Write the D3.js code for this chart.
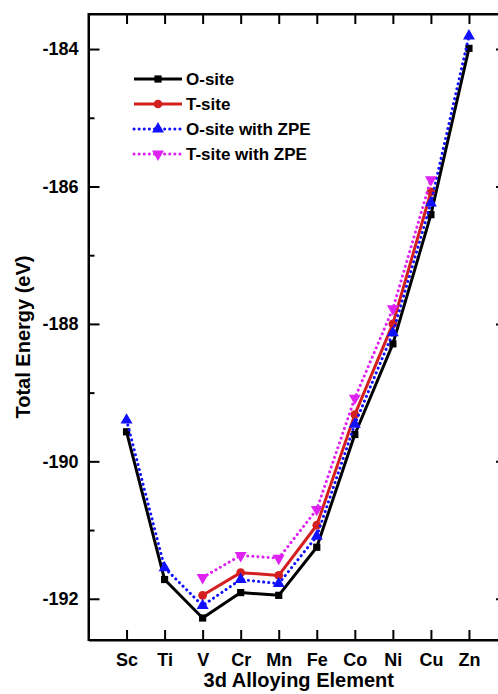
<!DOCTYPE html>
<html lang="en">
<head>
<meta charset="UTF-8">
<title>Total Energy vs 3d Alloying Element</title>
<script src="https://d3js.org/d3.v7.min.js"></script>
<style>
  body { margin: 0; background: #fff; }
  svg { display: block; font-family: "Liberation Sans", Arial, sans-serif; font-weight: bold; }
  .axis path, .axis line { stroke: #000; stroke-width: 2; }
  .axis text { font-size: 18px; font-weight: bold; fill: #000; }
</style>
</head>
<body>
<div id="chart"></div>
<script>
// data
const elements = ["Sc", "Ti", "V", "Cr", "Mn", "Fe", "Co", "Ni", "Cu", "Zn"];
const oSite    = [-189.57, -191.72, -192.28, -191.91, -191.95, -191.25, -189.61, -188.29, -186.41, -183.99];
const tSite    = [null, null, -191.95, -191.62, -191.66, -190.93, -189.32, -188.00, -186.08, null];
const oSiteZpe = [-189.40, -191.55, -192.10, -191.72, -191.78, -191.09, -189.46, -188.13, -186.24, -183.81];
const tSiteZpe = [null, null, -191.69, -191.37, -191.41, -190.70, -189.08, -187.78, -185.90, null];
const seriesNames = ["O-site", "T-site", "O-site with ZPE", "T-site with ZPE"];
const majorTicks = [-192, -190, -188, -186, -184];
const minorTicks = [-191, -189, -187, -185];

const W = 498, H = 694;
const plotL = 88.5, plotR = 507, plotT = 14, plotB = 640;

const svg = d3.select("#chart").append("svg")
    .attr("width", W)
    .attr("height", H);

const x = d3.scaleLinear().domain([-1, 10]).range([plotL, plotR]);
const y = d3.scaleLinear().domain([-192.6, -183.49]).range([plotB, plotT]);

const series = [
    { name: seriesNames[0], values: oSite,    color: "#000000", dash: null,    marker: "square" },
    { name: seriesNames[1], values: tSite,    color: "#d41f1f", dash: null,    marker: "circle" },
    { name: seriesNames[2], values: oSiteZpe, color: "#1010ff", dash: "0.1 5", marker: "triangle" },
    { name: seriesNames[3], values: tSiteZpe, color: "#dd22f2", dash: "0.1 5", marker: "triangleDown" }
];

const symbolFor = {
    square: d3.symbol().type(d3.symbolSquare).size(52),
    circle: d3.symbol().type(d3.symbolCircle).size(60),
    triangle: d3.symbol().type(d3.symbolTriangle).size(62),
    triangleDown: d3.symbol().type(d3.symbolTriangle).size(62)
};

// axes (ticks point inward)
const idx = d3.range(elements.length);

svg.append("g")
    .attr("class", "axis")
    .attr("transform", `translate(0,${plotB})`)
    .call(d3.axisBottom(x).tickValues(idx).tickSize(-10).tickSizeOuter(0).tickPadding(13)
        .tickFormat(i => elements[i]));

svg.append("g")
    .attr("class", "axis")
    .attr("transform", `translate(0,${plotT})`)
    .call(d3.axisTop(x).tickValues(idx).tickSize(-10).tickSizeOuter(0).tickFormat(""));

svg.append("g")
    .attr("class", "axis")
    .attr("transform", `translate(${plotL},0)`)
    .call(d3.axisLeft(y).tickValues(majorTicks).tickSize(-11).tickSizeOuter(0).tickPadding(10)
        .tickFormat(d => String(d)));

svg.append("g")
    .attr("class", "axis")
    .attr("transform", `translate(${plotL},0)`)
    .call(d3.axisLeft(y).tickValues(minorTicks).tickSize(-6).tickSizeOuter(0).tickFormat(""))
    .select(".domain").remove();

svg.append("g")
    .attr("class", "axis")
    .attr("transform", `translate(${plotR},0)`)
    .call(d3.axisRight(y).tickValues(majorTicks).tickSize(-11).tickSizeOuter(0).tickFormat(""));

svg.append("g")
    .attr("class", "axis")
    .attr("transform", `translate(${plotR},0)`)
    .call(d3.axisRight(y).tickValues(minorTicks).tickSize(-6).tickSizeOuter(0).tickFormat(""))
    .select(".domain").remove();

// frame
svg.append("rect")
    .attr("x", plotL).attr("y", plotT)
    .attr("width", plotR - plotL).attr("height", plotB - plotT)
    .attr("fill", "none").attr("stroke", "#000").attr("stroke-width", 2);

// axis titles
svg.append("text")
    .attr("x", (plotL + plotR) / 2 + 1)
    .attr("y", 687)
    .attr("text-anchor", "middle")
    .style("font-size", "20px")
    .text("3d Alloying Element");

svg.append("text")
    .attr("transform", "translate(30,337) rotate(-90)")
    .attr("text-anchor", "middle")
    .style("font-size", "20px")
    .text("Total Energy (eV)");

// lines + markers
const line = d3.line()
    .defined(d => d != null)
    .x((d, i) => x(i))
    .y(d => y(d));

series.forEach(s => {
    const g = svg.append("g");
    g.append("path")
        .datum(s.values)
        .attr("fill", "none")
        .attr("stroke", s.color)
        .attr("stroke-width", 3)
        .attr("stroke-linecap", s.dash ? "round" : "butt")
        .attr("stroke-linejoin", "round")
        .attr("stroke-dasharray", s.dash)
        .attr("d", line);

    g.selectAll("path.mark")
        .data(s.values.map((v, i) => ({ v, i })).filter(d => d.v != null))
        .enter().append("path")
        .attr("class", "mark")
        .attr("d", symbolFor[s.marker])
        .attr("transform", d => `translate(${x(d.i)},${y(d.v)})` + (s.marker === "triangleDown" ? " rotate(180)" : ""))
        .attr("fill", s.color);
});

// legend
const legend = svg.append("g");
const legRows = [79, 104, 129, 154];
series.forEach((s, k) => {
    const ly = legRows[k];
    legend.append("line")
        .attr("x1", 134).attr("x2", 182)
        .attr("y1", ly).attr("y2", ly)
        .attr("stroke", s.color)
        .attr("stroke-width", 3)
        .attr("stroke-linecap", s.dash ? "round" : "butt")
        .attr("stroke-dasharray", s.dash);
    legend.append("path")
        .attr("d", symbolFor[s.marker])
        .attr("transform", `translate(158,${ly})` + (s.marker === "triangleDown" ? " rotate(180)" : ""))
        .attr("fill", s.color);
    legend.append("text")
        .attr("x", 186)
        .attr("y", ly + 6)
        .style("font-size", "17px")
        .text(s.name);
});
</script>
</body>
</html>
